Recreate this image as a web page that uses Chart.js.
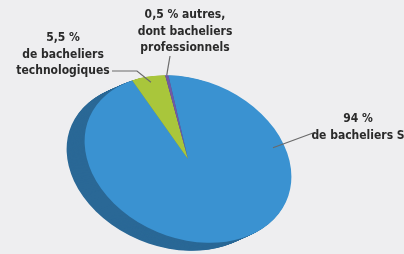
<!DOCTYPE html>
<html>
<head>
<meta charset="utf-8">
<script src="https://cdn.jsdelivr.net/npm/chart.js@4"></script>
<style>
  html, body { margin: 0; padding: 0; background: #eeeef0; }
  #wrap { width: 404px; height: 254px; position: relative; }
</style>
</head>
<body>
<div id="wrap"><canvas id="pie" width="404" height="254"></canvas></div>
<script>
// données
var categories = ['de bacheliers S', 'de bacheliers technologiques', 'autres, dont bacheliers professionnels'];
var shares = [94, 5.5, 0.5];
var topColors = ['#3a92d1', '#a9c63b', '#7259a6'];
var sideColors = ['#2a6896', '#7d9330', '#4a3a70'];

function pct(v) {
  return String(v).replace('.', ',') + ' %';
}

// textes des étiquettes
var labelLines = [
  [pct(shares[0]), 'de bacheliers S'],
  [pct(shares[1]), 'de bacheliers', 'technologiques'],
  [pct(shares[2]) + ' autres,', 'dont bacheliers', 'professionnels']
];

/* mise en page : ellipse inclinée + épaisseur */
var tilt = { cx: 188, cy: 159, r: 107, squash: 0.74, angle: 22.5 };
var depth = { dx: -18, dy: 8, steps: 20 };
var labelPos = [
  { x: 358, y: 119, line: [[313, 133]], anchor: { deg: -38, frac: 0.88 } },
  { x: 63, y: 38, line: [[112, 71], [137, 71]], anchor: { frac: 0.93 } },
  { x: 185, y: 15, line: [[170, 56]], anchor: { frac: 1.0 } }
];
var lineH = 16.5;

function applyTilt(ctx, arc) {
  var s = tilt.r / arc.outerRadius;
  ctx.translate(tilt.cx, tilt.cy);
  ctx.rotate(tilt.angle * Math.PI / 180);
  ctx.scale(s, s * tilt.squash);
  ctx.translate(-arc.x, -arc.y);
}

var pie3d = {
  id: 'pie3d',
  beforeDatasetsDraw: function(chart) {
    var ctx = chart.ctx;
    var arcs = chart.getDatasetMeta(0).data;
    // épaisseur (côté sombre)
    for (var i = depth.steps; i >= 1; i--) {
      ctx.save();
      ctx.translate(depth.dx * i / depth.steps, depth.dy * i / depth.steps);
      applyTilt(ctx, arcs[0]);
      for (var j = 0; j < arcs.length; j++) {
        var ghost = Object.create(arcs[j]);
        ghost.options = Object.assign({}, arcs[j].options, { backgroundColor: sideColors[j], borderWidth: 0 });
        ghost.draw(ctx);
      }
      ctx.restore();
    }
    ctx.save();
    applyTilt(ctx, arcs[0]);
  },
  afterDatasetsDraw: function(chart) {
    chart.ctx.restore();
  },
  afterDraw: function(chart) {
    var ctx = chart.ctx;
    var arcs = chart.getDatasetMeta(0).data;
    ctx.save();
    applyTilt(ctx, arcs[0]);
    var m = ctx.getTransform();
    ctx.restore();

    ctx.save();
    ctx.strokeStyle = '#6a6a6a';
    ctx.lineWidth = 1.2;
    for (var i = 0; i < arcs.length; i++) {
      var a = arcs[i];
      var p = labelPos[i];
      var ang = p.anchor.deg !== undefined ? p.anchor.deg * Math.PI / 180 : (a.startAngle + a.endAngle) / 2;
      var rr = a.outerRadius * p.anchor.frac;
      var pt = m.transformPoint(new DOMPoint(a.x + rr * Math.cos(ang), a.y + rr * Math.sin(ang)));
      ctx.beginPath();
      ctx.moveTo(p.line[0][0], p.line[0][1]);
      for (var k = 1; k < p.line.length; k++) ctx.lineTo(p.line[k][0], p.line[k][1]);
      ctx.lineTo(pt.x, pt.y);
      ctx.stroke();

      ctx.fillStyle = '#2a2a2a';
      ctx.font = 'bold 12px "Liberation Sans Narrow", "DejaVu Sans Condensed", "Liberation Sans", sans-serif';
      ctx.textAlign = 'center';
      ctx.textBaseline = 'middle';
      for (var l = 0; l < labelLines[i].length; l++) {
        ctx.fillText(labelLines[i][l], p.x, p.y + l * lineH);
      }
    }
    ctx.restore();
  }
};

var chart = new Chart(document.getElementById('pie'), {
  type: 'pie',
  data: {
    labels: categories,
    datasets: [{
      data: shares,
      backgroundColor: topColors,
      borderWidth: 0,
      clip: false
    }]
  },
  options: {
    responsive: false,
    animation: false,
    rotation: -28,
    plugins: {
      legend: { display: false },
      tooltip: { enabled: false }
    }
  },
  plugins: [pie3d]
});
</script>
</body>
</html>
